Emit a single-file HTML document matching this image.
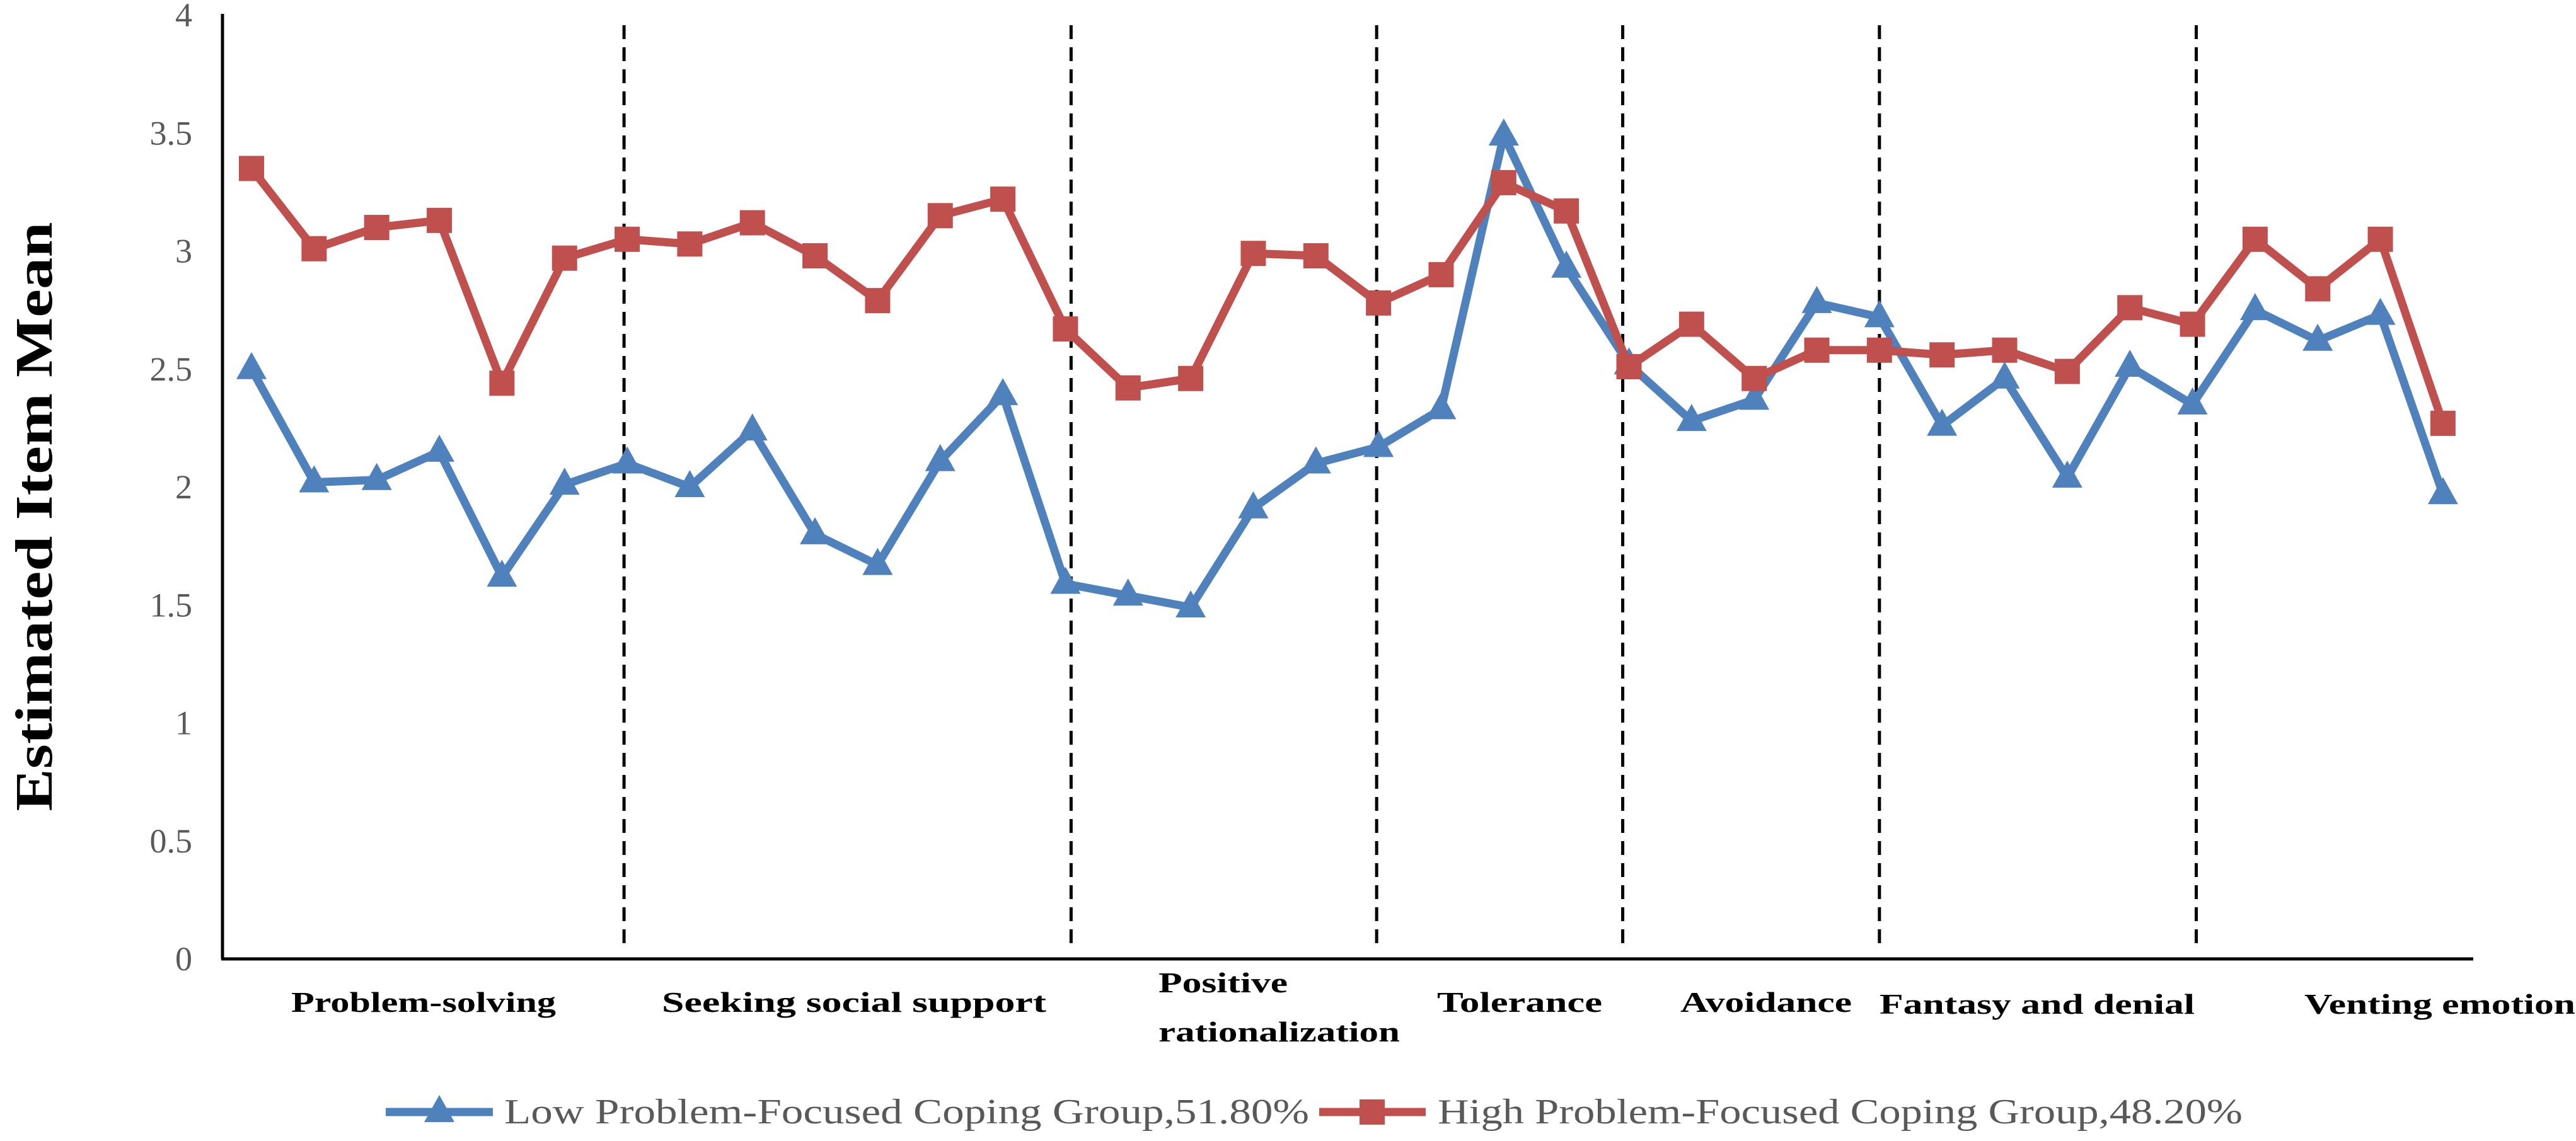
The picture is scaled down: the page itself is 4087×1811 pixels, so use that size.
<!DOCTYPE html>
<html><head><meta charset="utf-8"><style>
html,body{margin:0;padding:0;background:#fff;}
svg{display:block;}
</style></head><body>
<svg id="chart" width="4087" height="1811" viewBox="0 0 4087 1811" xmlns="http://www.w3.org/2000/svg">
<g id="grid"></g>
</svg>
<script>
const yTicks = [0, 0.5, 1, 1.5, 2, 2.5, 3, 3.5, 4];
const yTickLabels = ["0","0.5","1","1.5","2","2.5","3","3.5","4"];
const lowSeries = [2.50,2.02,2.03,2.15,1.62,2.01,2.10,2.00,2.24,1.80,1.67,2.11,2.39,1.59,1.54,1.49,1.91,2.10,2.17,2.33,3.49,2.93,2.52,2.28,2.37,2.78,2.72,2.26,2.46,2.04,2.51,2.35,2.75,2.62,2.73,1.97];
const highSeries = [3.35,3.01,3.10,3.13,2.44,2.97,3.05,3.03,3.12,2.98,2.79,3.15,3.22,2.67,2.42,2.46,2.99,2.98,2.78,2.90,3.29,3.17,2.51,2.69,2.46,2.58,2.58,2.56,2.58,2.49,2.76,2.69,3.05,2.84,3.05,2.27];
const separatorItems = [5.95, 13.09, 17.97, 21.9, 26.0, 31.06];

const NS = "http://www.w3.org/2000/svg";
const svg = document.getElementById('chart');
const X0 = 399, DX = 99.34, Y0 = 1522, YU = 374.5;
function xs(i){ return X0 + i * DX; }
function ys(v){ return Y0 - v * YU; }
function mk(tag, attrs, parent){
  const e = document.createElementNS(NS, tag);
  for (const k in attrs) e.setAttribute(k, attrs[k]);
  (parent || svg).appendChild(e);
  return e;
}
let ax = mk('line', {x1:353, y1:22, x2:353, y2:Y0, stroke:'#000', 'stroke-width':5});


ax = mk('line', {x1:351, y1:Y0, x2:3924, y2:Y0, stroke:'#000', 'stroke-width':5});


yTicks.forEach((v, i) => {
  const t = mk('text', {x:305, y:ys(v) + 18, 'text-anchor':'end', 'font-family':'Liberation Serif, serif', 'font-size':54, fill:'#595959'});
  t.textContent = yTickLabels[i];
  
  
});
separatorItems.forEach(s => {
  const l = mk('line', {x1:xs(s), y1:40, x2:xs(s), y2:1510, stroke:'#000', 'stroke-width':5, 'stroke-dasharray':'22 13'});
  
  
});
function series(vals, color, marker, name){
  const g = mk('g', {});
  
  
  const pl = mk('polyline', {points: vals.map((v,i)=>xs(i)+','+ys(v)).join(' '), fill:'none', stroke:color, 'stroke-width':13, 'stroke-linejoin':'round'}, g);
  
  
  vals.forEach((v,i)=>{
    const x = xs(i), y = ys(v);
    let m;
    if (marker === 'square') m = mk('rect', {x:x-20, y:y-20, width:40, height:40, fill:color}, g);
    else m = mk('polygon', {points:(x)+','+(y-27)+' '+(x+24)+','+(y+16)+' '+(x-24)+','+(y+16), fill:color}, g);
    
    
  });
}
series(lowSeries, '#4F81BD', 'triangle', 'low-group-series');
series(highSeries, '#C0504D', 'square', 'high-group-series');
</script>
<svg style="position:absolute;left:0;top:0" width="4087" height="1811" viewBox="0 0 4087 1811" xmlns="http://www.w3.org/2000/svg">
<g font-family="Liberation Serif, serif" font-weight="bold" font-size="46" fill="#000">
<text x="672" y="1606" text-anchor="middle" textLength="420" lengthAdjust="spacingAndGlyphs">Problem-solving</text>
<text x="1355" y="1606" text-anchor="middle" textLength="610" lengthAdjust="spacingAndGlyphs">Seeking social support</text>
<text x="1838" y="1575" textLength="205" lengthAdjust="spacingAndGlyphs">Positive</text>
<text x="1838" y="1653" textLength="383" lengthAdjust="spacingAndGlyphs">rationalization</text>
<text x="2411" y="1606" text-anchor="middle" textLength="262" lengthAdjust="spacingAndGlyphs">Tolerance</text>
<text x="2802" y="1606" text-anchor="middle" textLength="272" lengthAdjust="spacingAndGlyphs">Avoidance</text>
<text x="3232" y="1609" text-anchor="middle" textLength="500" lengthAdjust="spacingAndGlyphs">Fantasy and denial</text>
<text x="3871" y="1609" text-anchor="middle" textLength="430" lengthAdjust="spacingAndGlyphs">Venting emotion</text>
</g>
<text transform="translate(82,820) rotate(-90)" text-anchor="middle" font-family="Liberation Serif, serif" font-weight="bold" font-size="84" fill="#000" textLength="935" lengthAdjust="spacingAndGlyphs">Estimated Item Mean</text>
<g>
<line x1="612" y1="1765" x2="782" y2="1765" stroke="#4F81BD" stroke-width="13"/>
<polygon points="697,1738 721,1781 673,1781" fill="#4F81BD"/>
<text x="800" y="1783" font-family="Liberation Serif, serif" font-size="56" fill="#595959" textLength="1277" lengthAdjust="spacingAndGlyphs">Low Problem-Focused Coping Group,51.80%</text>
<line x1="2093" y1="1765" x2="2262" y2="1765" stroke="#C0504D" stroke-width="13"/>
<rect x="2157" y="1745" width="40" height="40" fill="#C0504D"/>
<text x="2281" y="1783" font-family="Liberation Serif, serif" font-size="56" fill="#595959" textLength="1277" lengthAdjust="spacingAndGlyphs">High Problem-Focused Coping Group,48.20%</text>
</g>
</svg>
</body></html>
